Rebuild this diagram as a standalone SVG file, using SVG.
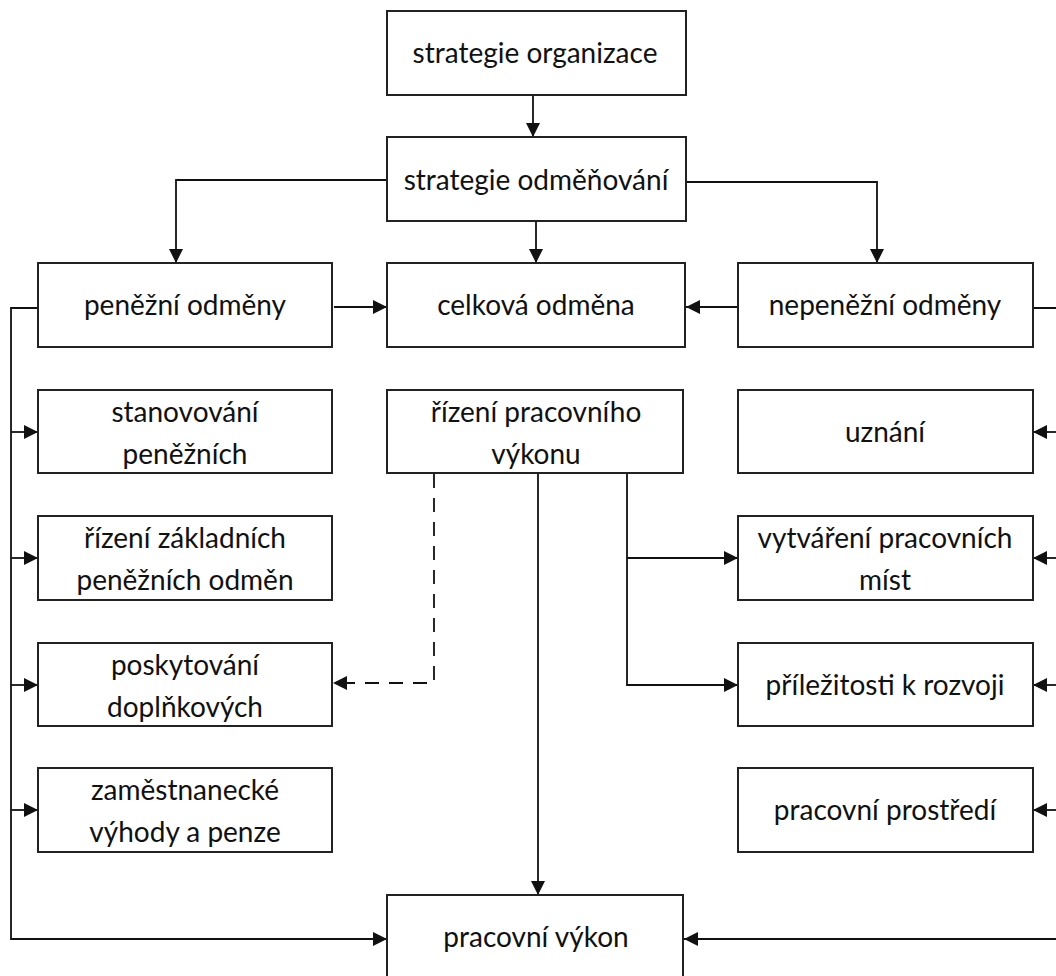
<svg xmlns="http://www.w3.org/2000/svg" width="1056" height="976" viewBox="0 0 1056 976">
<style>
.box rect{fill:#fff;stroke:#222;stroke-width:2}
.box text{font-family:Lato,"Open Sans",sans-serif;font-size:28px;fill:#111;text-anchor:middle}
.c path{fill:none;stroke:#111;stroke-width:1.8}
.c .d{stroke-dasharray:14 10}
</style>
<defs>
<marker id="a" viewBox="0 0 14 14" refX="14" refY="7" markerWidth="14" markerHeight="14" markerUnits="userSpaceOnUse" orient="auto"><path d="M0,0 L14,7 L0,14 Z" fill="#111"/></marker>
</defs>
<rect width="1056" height="976" fill="#fff"/>
<g class="c">
<path d="M533,95 V137" marker-end="url(#a)"/>
<path d="M387,180 H176 V263" marker-end="url(#a)"/>
<path d="M686,182 H877 V263" marker-end="url(#a)"/>
<path d="M536,221 V263" marker-end="url(#a)"/>
<path d="M334,307 H387" marker-end="url(#a)"/>
<path d="M738,307 H686" marker-end="url(#a)"/>
<path d="M38,308 H11 V939 H387" marker-end="url(#a)"/>
<path d="M11,432 H38" marker-end="url(#a)"/>
<path d="M11,558 H38" marker-end="url(#a)"/>
<path d="M11,685 H38" marker-end="url(#a)"/>
<path d="M11,810 H38" marker-end="url(#a)"/>
<path d="M1033,308 H1062 V939 H684" marker-end="url(#a)"/>
<path d="M1062,432 H1033" marker-end="url(#a)"/>
<path d="M1062,558 H1033" marker-end="url(#a)"/>
<path d="M1062,685 H1033" marker-end="url(#a)"/>
<path d="M1062,810 H1033" marker-end="url(#a)"/>
<path class="d" d="M434,474 V683 H333" marker-end="url(#a)"/>
<path d="M538,474 V895" marker-end="url(#a)"/>
<path d="M627,474 V685 H738" marker-end="url(#a)"/>
<path d="M627,558 H738" marker-end="url(#a)"/>
</g>
<g id="n1" class="box"><rect x="387" y="11" width="299" height="84"/><text x="535" y="63">strategie organizace</text></g>
<g id="n2" class="box"><rect x="387" y="137" width="299" height="84"/><text x="536" y="190">strategie odměňování</text></g>
<g id="n3" class="box"><rect x="38" y="263" width="294" height="84"/><text x="185" y="315">peněžní odměny</text></g>
<g id="n4" class="box"><rect x="387" y="263" width="298" height="84"/><text x="536" y="315">celková odměna</text></g>
<g id="n5" class="box"><rect x="738" y="263" width="295" height="84"/><text x="885" y="315">nepeněžní odměny</text></g>
<g id="n6" class="box"><rect x="38" y="390" width="294" height="83"/><text x="185" y="422">stanovování</text><text x="185" y="464">peněžních</text></g>
<g id="n7" class="box"><rect x="387" y="390" width="296" height="83"/><text x="536" y="422">řízení pracovního</text><text x="536" y="464">výkonu</text></g>
<g id="n8" class="box"><rect x="738" y="390" width="295" height="83"/><text x="885" y="442">uznání</text></g>
<g id="n9" class="box"><rect x="38" y="516" width="294" height="84"/><text x="185" y="548">řízení základních</text><text x="185" y="590">peněžních odměn</text></g>
<g id="n10" class="box"><rect x="738" y="516" width="295" height="84"/><text x="885" y="548">vytváření pracovních</text><text x="885" y="590">míst</text></g>
<g id="n11" class="box"><rect x="38" y="643" width="294" height="83"/><text x="185" y="675">poskytování</text><text x="185" y="717">doplňkových</text></g>
<g id="n12" class="box"><rect x="738" y="643" width="295" height="83"/><text x="885" y="695">příležitosti k rozvoji</text></g>
<g id="n13" class="box"><rect x="38" y="768" width="294" height="84"/><text x="185" y="800">zaměstnanecké</text><text x="185" y="842">výhody a penze</text></g>
<g id="n14" class="box"><rect x="738" y="768" width="295" height="84"/><text x="885" y="820">pracovní prostředí</text></g>
<g id="n15" class="box"><rect x="387" y="895" width="296" height="84"/><text x="536" y="947">pracovní výkon</text></g>
</svg>
